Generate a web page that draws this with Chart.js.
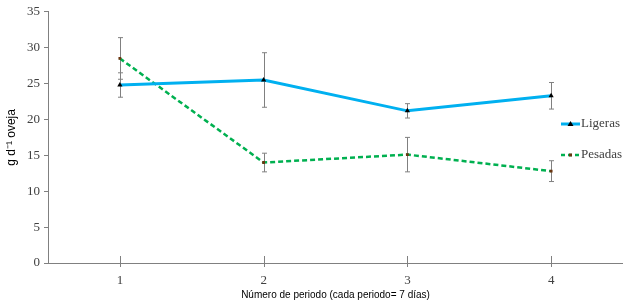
<!DOCTYPE html>
<html>
<head>
<meta charset="utf-8">
<script src="https://cdn.jsdelivr.net/npm/chart.js@4.4.0/dist/chart.umd.min.js"></script>
<style>
  html, body { margin: 0; padding: 0; background: #fff; }
  #wrap { width: 623px; height: 301px; }
</style>
</head>
<body>
<div id="wrap"><canvas id="chart"></canvas></div>
<script>
// data
var periods = ['1', '2', '3', '4'];
var ligeras = [24.8, 25.5, 21.2, 23.3];
var ligerasErr = [1.7, 3.8, 1.0, 1.85];
var pesadas = [28.5, 14.0, 15.1, 12.8];
var pesadasErr = [2.9, 1.3, 2.4, 1.45];
var yTicks = [0, 5, 10, 15, 20, 25, 30, 35];

var serif = "'Liberation Serif', 'Times New Roman', serif";
var sans = "'Liberation Sans', Arial, sans-serif";

// error bars, drawn before the lines
var errorBars = {
    id: 'errorBars',
    beforeDatasetsDraw: function(chart) {
        var ctx = chart.ctx;
        var x = chart.scales.x, y = chart.scales.y;
        var errs = [ligerasErr, pesadasErr];
        ctx.save();
        ctx.strokeStyle = '#808080';
        ctx.lineWidth = 1;
        chart.data.datasets.forEach(function(ds, i) {
            ds.data.forEach(function(v, j) {
                var px = Math.round(x.getPixelForValue(j)) + 0.5;
                var top = y.getPixelForValue(v + errs[i][j]);
                var bot = y.getPixelForValue(v - errs[i][j]);
                ctx.beginPath();
                ctx.moveTo(px, top); ctx.lineTo(px, bot);
                ctx.moveTo(px - 2.5, top); ctx.lineTo(px + 2.5, top);
                ctx.moveTo(px - 2.5, bot); ctx.lineTo(px + 2.5, bot);
                ctx.stroke();
            });
        });
        ctx.restore();
    }
};

// x tick marks cross the axis, mostly upward
var xTickMarks = {
    id: 'xTickMarks',
    afterDraw: function(chart) {
        var ctx = chart.ctx;
        var x = chart.scales.x;
        var base = chart.chartArea.bottom;
        ctx.save();
        ctx.strokeStyle = '#808080';
        ctx.lineWidth = 1;
        periods.forEach(function(p, j) {
            var px = Math.round(x.getPixelForValue(j)) + 0.5;
            ctx.beginPath();
            ctx.moveTo(px, base - 7); ctx.lineTo(px, base + 4);
            ctx.stroke();
        });
        ctx.restore();
    }
};

// legend sits inside the plot on the right
var sideLegend = {
    id: 'sideLegend',
    afterDraw: function(chart) {
        var ctx = chart.ctx;
        var x0 = chart.width - 62;
        var items = [
            { label: 'Ligeras', color: '#00B0F0', dash: [], width: 3, y: 124, tri: true },
            { label: 'Pesadas', color: '#00B050', dash: [4, 3], width: 2.5, y: 155, tri: false }
        ];
        ctx.save();
        items.forEach(function(it) {
            ctx.strokeStyle = it.color;
            ctx.lineWidth = it.width;
            ctx.setLineDash(it.dash);
            ctx.beginPath();
            ctx.moveTo(x0, it.y); ctx.lineTo(x0 + 19, it.y);
            ctx.stroke();
            ctx.setLineDash([]);
            ctx.fillStyle = it.tri ? '#000' : '#6b3510';
            if (it.tri) {
                ctx.beginPath();
                ctx.moveTo(x0 + 9.5, it.y - 3);
                ctx.lineTo(x0 + 12.5, it.y + 2);
                ctx.lineTo(x0 + 6.5, it.y + 2);
                ctx.closePath();
                ctx.fill();
            } else {
                ctx.fillRect(x0 + 8, it.y - 1.5, 3, 3);
            }
            ctx.fillStyle = '#404040';
            ctx.font = '13px ' + serif;
            ctx.textBaseline = 'middle';
            ctx.fillText(it.label, x0 + 20, it.y);
        });
        ctx.restore();
    }
};

new Chart(document.getElementById('chart'), {
    type: 'line',
    data: {
        labels: periods,
        datasets: [
            {
                label: 'Ligeras',
                data: ligeras,
                borderColor: '#00B0F0',
                backgroundColor: '#000',
                borderWidth: 3,
                pointStyle: 'triangle',
                pointRadius: 3,
                pointBorderWidth: 0,
                tension: 0
            },
            {
                label: 'Pesadas',
                data: pesadas,
                borderColor: '#00B050',
                backgroundColor: '#6b3510',
                borderWidth: 2.5,
                borderDash: [5, 3],
                pointStyle: 'rect',
                pointRadius: 2,
                pointBorderWidth: 0,
                tension: 0
            }
        ]
    },
    options: {
        responsive: true,
        maintainAspectRatio: false,
        animation: false,
        layout: { autoPadding: false, padding: { top: 10, right: -5, left: 0, bottom: 0 } },
        plugins: {
            legend: { display: false },
            tooltip: { enabled: false }
        },
        scales: {
            x: {
                type: 'category',
                offset: true,
                afterFit: function(s) { s.height = 38; },
                grid: { offset: false, drawOnChartArea: false, drawTicks: false, tickLength: 0 },
                border: { color: '#808080', width: 1 },
                ticks: { color: '#404040', font: { family: serif, size: 13 }, padding: 10 },
                title: {
                    display: true,
                    text: 'Número de periodo (cada periodo= 7 días)',
                    color: '#000',
                    font: { family: sans, size: 10 },
                    padding: { top: 0, bottom: 0 }
                }
            },
            y: {
                min: 0,
                max: 35,
                afterFit: function(s) { s.width = 48; },
                afterBuildTicks: function(s) { s.ticks = yTicks.map(function(v) { return { value: v }; }); },
                grid: { drawOnChartArea: false, tickLength: 4, color: '#808080' },
                border: { color: '#808080', width: 1 },
                ticks: { color: '#404040', font: { family: serif, size: 13 }, padding: 4 },
                title: {
                    display: true,
                    text: 'g d⁻¹ oveja',
                    color: '#000',
                    font: { family: sans, size: 12 },
                    padding: { top: 4, bottom: 0 }
                }
            }
        }
    },
    plugins: [errorBars, xTickMarks, sideLegend]
});
</script>
</body>
</html>
